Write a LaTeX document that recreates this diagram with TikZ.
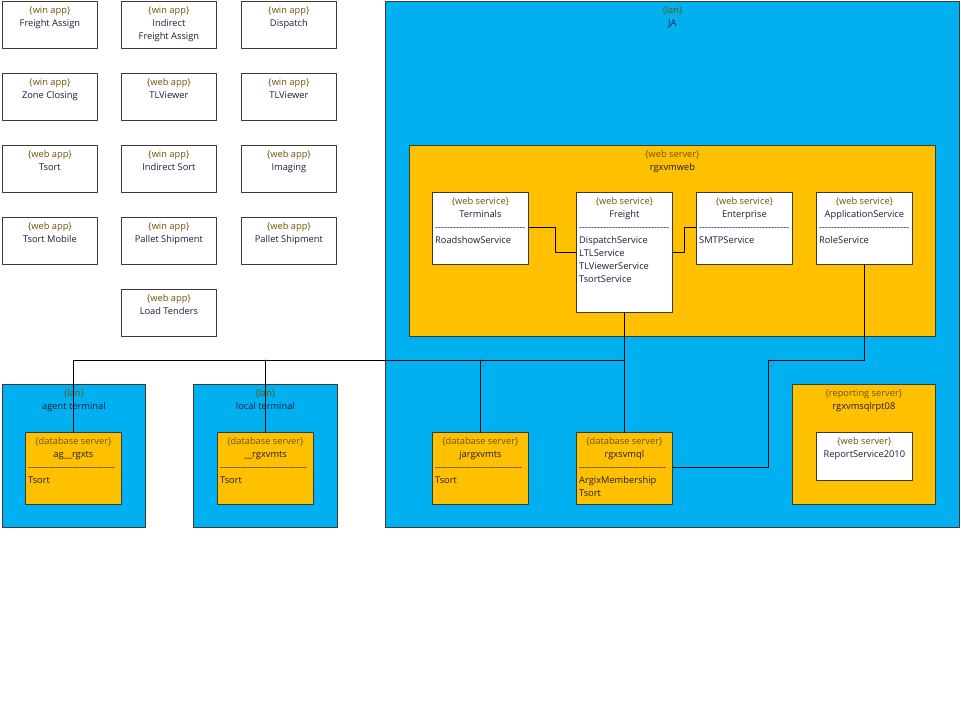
\documentclass[tikz,border=0pt]{standalone}
\usepackage{fontspec}
\setmainfont{Open Sans}
\usetikzlibrary{positioning}
\definecolor{lanblue}{HTML}{00B0F0}
\definecolor{srvyellow}{HTML}{FFC000}
\definecolor{boxline}{HTML}{3A3A3A}
\definecolor{stcol}{HTML}{6E5200}
\definecolor{namecol}{HTML}{1C1C3A}
\newcommand{\lbl}{\fontsize{9.3}{13}\selectfont}
\newcommand{\st}[1]{\textcolor{stcol}{\{#1\}}}
\newcommand{\sepline}[1]{\strut\foreach\k in {1,...,#1}{-}}

\begin{document}
\begin{tikzpicture}[x=1pt,y=-1pt,line cap=round,line join=round,
	box/.style={draw=boxline,line width=0.8pt,anchor=north west,inner sep=0pt},
	app/.style={box,fill=white,minimum width=95pt,minimum height=47pt},
	svc/.style={box,fill=white,minimum width=96pt},
	lan/.style={box,fill=lanblue},
	srv/.style={box,fill=srvyellow},
	hdr/.style={anchor=north,inner sep=0pt,align=center,font=\lbl,text=namecol},
	body/.style={anchor=north west,inner sep=0pt,align=left,font=\lbl,text=namecol},
	wire/.style={draw=black,line width=0.8pt}]
		\useasboundingbox (0,0) rectangle (961,709);
		% applications
		\node[app] (fassign) at (2,1) {};
		\node[hdr,below=3.6pt of fassign.north] {\strut\st{win app}\\Freight Assign};
		\node[app] (ifassign) at (121,1) {};
		\node[hdr,below=3.6pt of ifassign.north] {\strut\st{win app}\\Indirect\\Freight Assign};
		\node[app] (dispatch) at (241,1) {};
		\node[hdr,below=3.6pt of dispatch.north] {\strut\st{win app}\\Dispatch};
		\node[app] (zclosing) at (2,73) {};
		\node[hdr,below=3.6pt of zclosing.north] {\strut\st{win app}\\Zone Closing};
		\node[app] (tlvweb) at (121,73) {};
		\node[hdr,below=3.6pt of tlvweb.north] {\strut\st{web app}\\TLViewer};
		\node[app] (tlvwin) at (241,73) {};
		\node[hdr,below=3.6pt of tlvwin.north] {\strut\st{win app}\\TLViewer};
		\node[app] (tsort) at (2,145) {};
		\node[hdr,below=3.6pt of tsort.north] {\strut\st{web app}\\Tsort};
		\node[app] (isort) at (121,145) {};
		\node[hdr,below=3.6pt of isort.north] {\strut\st{win app}\\Indirect Sort};
		\node[app] (imaging) at (241,145) {};
		\node[hdr,below=3.6pt of imaging.north] {\strut\st{web app}\\Imaging};
		\node[app] (tsortmob) at (2,217) {};
		\node[hdr,below=3.6pt of tsortmob.north] {\strut\st{web app}\\Tsort Mobile};
		\node[app] (pshipwin) at (121,217) {};
		\node[hdr,below=3.6pt of pshipwin.north] {\strut\st{win app}\\Pallet Shipment};
		\node[app] (pshipweb) at (241,217) {};
		\node[hdr,below=3.6pt of pshipweb.north] {\strut\st{web app}\\Pallet Shipment};
		\node[app] (ltenders) at (121,289) {};
		\node[hdr,below=3.6pt of ltenders.north] {\strut\st{web app}\\Load Tenders};
		% lan JA
		\node[lan,minimum width=574pt,minimum height=526pt] (lanja) at (385,1) {};
		\node[hdr,below=3.6pt of lanja.north] {\strut\st{lan}\\JA};
		\node[srv,minimum width=526pt,minimum height=191pt] (rgxvmweb) at (409,145) {};
		\node[hdr,below=3.6pt of rgxvmweb.north] {\strut\st{web server}\\rgxvmweb};
		\node[svc,minimum height=72pt] (terminals) at (432,192) {};
		\node[hdr,below=3.6pt of terminals.north] {\strut\st{web service}\\Terminals};
		\node[body,below right=29.4pt and 3pt of terminals.north west] {\sepline{30}\\RoadshowService};
		\node[svc,minimum height=120pt] (freight) at (576,192) {};
		\node[hdr,below=3.6pt of freight.north] {\strut\st{web service}\\Freight};
		\node[body,below right=29.4pt and 3pt of freight.north west] {\sepline{30}\\DispatchService\\LTLService\\TLViewerService\\TsortService};
		\node[svc,minimum height=72pt] (enterprise) at (696,192) {};
		\node[hdr,below=3.6pt of enterprise.north] {\strut\st{web service}\\Enterprise};
		\node[body,below right=29.4pt and 3pt of enterprise.north west] {\sepline{30}\\SMTPService};
		\node[svc,minimum height=72pt] (appsvc) at (816,192) {};
		\node[hdr,below=3.6pt of appsvc.north] {\strut\st{web service}\\ApplicationService};
		\node[body,below right=29.4pt and 3pt of appsvc.north west] {\sepline{30}\\RoleService};
		\node[srv,minimum width=96pt,minimum height=72pt] (jargxvmts) at (432,432) {};
		\node[hdr,below=3.6pt of jargxvmts.north] {\strut\st{database server}\\jargxvmts};
		\node[body,below right=29.4pt and 3pt of jargxvmts.north west] {\sepline{29}\\Tsort};
		\node[srv,minimum width=96pt,minimum height=72pt] (rgxsvmql) at (576,432) {};
		\node[hdr,below=3.6pt of rgxsvmql.north] {\strut\st{database server}\\rgxsvmql};
		\node[body,below right=29.4pt and 3pt of rgxsvmql.north west] {\sepline{29}\\ArgixMembership\\Tsort};
		\node[srv,minimum width=143pt,minimum height=120pt] (rptsrv) at (792,384) {};
		\node[hdr,below=3.6pt of rptsrv.north] {\strut\st{reporting server}\\rgxvmsqlrpt08};
		\node[svc,minimum height=48pt] (rptsvc) at (816,432) {};
		\node[hdr,below=3.6pt of rptsvc.north] {\strut\st{web server}\\ReportService2010};
		% agent and local terminals
		\node[lan,minimum width=143pt,minimum height=143pt] (agentlan) at (2,384) {};
		\node[hdr,below=3.6pt of agentlan.north] {\strut\st{lan}\\agent terminal};
		\node[srv,minimum width=96pt,minimum height=72pt] (agrgxts) at (25,432) {};
		\node[hdr,below=3.6pt of agrgxts.north] {\strut\st{database server}\\ag\_\_rgxts};
		\node[body,below right=29.4pt and 3pt of agrgxts.north west] {\sepline{29}\\Tsort};
		\node[lan,minimum width=144pt,minimum height=143pt] (locallan) at (193,384) {};
		\node[hdr,below=3.6pt of locallan.north] {\strut\st{lan}\\local terminal};
		\node[srv,minimum width=96pt,minimum height=72pt] (lcrgxvmts) at (217,432) {};
		\node[hdr,below=3.6pt of lcrgxvmts.north] {\strut\st{database server}\\\_\_rgxvmts};
		\node[body,below right=29.4pt and 3pt of lcrgxvmts.north west] {\sepline{29}\\Tsort};
		% connections
		\coordinate (bus) at (624,360);
		\coordinate (bend) at (768,360);
		\draw[wire] ([yshift=-35pt]terminals.north east) -- ++(27,0) |- ([yshift=-60pt]freight.north west);
		\draw[wire] ([yshift=-60pt]freight.north east) -- ++(12,0) |- ([yshift=-35pt]enterprise.north west);
		\draw[wire] (freight.south) -- (rgxsvmql.north);
		\draw[wire] (bus) -- (agrgxts.north |- bus) -- (agrgxts.north);
		\draw[wire] (lcrgxvmts.north |- bus) -- (lcrgxvmts.north);
		\draw[wire] (jargxvmts.north |- bus) -- (jargxvmts.north);
		\draw[wire] (appsvc.south) |- (bend) |- ([yshift=-35pt]rgxsvmql.north east);
\end{tikzpicture}
\end{document}
